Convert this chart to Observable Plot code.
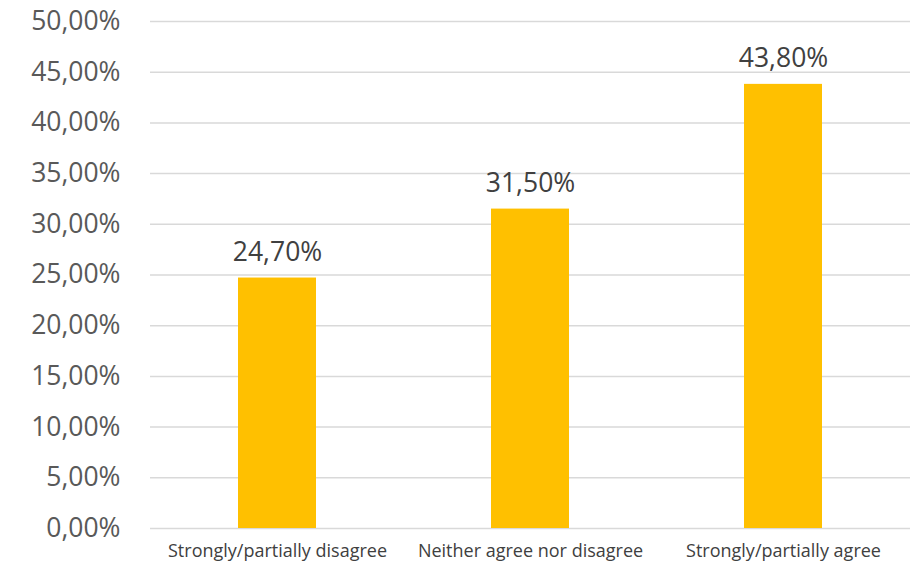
<!DOCTYPE html>
<html>
<head>
<meta charset="utf-8">
<script src="https://cdn.jsdelivr.net/npm/d3@7"></script>
<script src="https://cdn.jsdelivr.net/npm/@observablehq/plot@0.6"></script>
<style>
  html, body { margin: 0; padding: 0; background: #fff; }
  #chart svg { font-family: "Open Sans", sans-serif; }
</style>
</head>
<body>
<div id="chart"></div>
<script>
const categories = ["Strongly/partially disagree", "Neither agree nor disagree", "Strongly/partially agree"];
const values = [24.7, 31.5, 43.8];
const yTicks = [0, 5, 10, 15, 20, 25, 30, 35, 40, 45, 50];

const data = categories.map((c, i) => ({category: c, value: values[i]}));
const fmt = d => d.toFixed(2).replace(".", ",") + "%";

const chart = Plot.plot({
  width: 913,
  height: 568,
  marginLeft: 150,
  marginRight: 3,
  marginTop: 21,
  marginBottom: 40,
  x: {
    domain: categories,
    paddingInner: 0.69,
    paddingOuter: 0.345,
    label: null
  },
  y: {
    domain: [0, 50],
    label: null
  },
  marks: [
    Plot.gridY(yTicks, {stroke: "#d9d9d9", strokeOpacity: 1, strokeWidth: 1.5}),
    Plot.barY(data, {x: "category", y: "value", fill: "#FFC000"}),
    Plot.text(data, {x: "category", y: "value", text: d => fmt(d.value), lineAnchor: "bottom", dy: -17, fontSize: 26.5, fill: "#404040"}),
    Plot.axisY({ticks: yTicks, tickFormat: fmt, tickSize: 0, tickPadding: 30, fontSize: 26.5, color: "#595959", label: null}),
    Plot.axisX({tickSize: 0, tickPadding: 16, fontSize: 18, color: "#404040", label: null})
  ]
});
document.getElementById("chart").append(chart);
</script>
</body>
</html>
